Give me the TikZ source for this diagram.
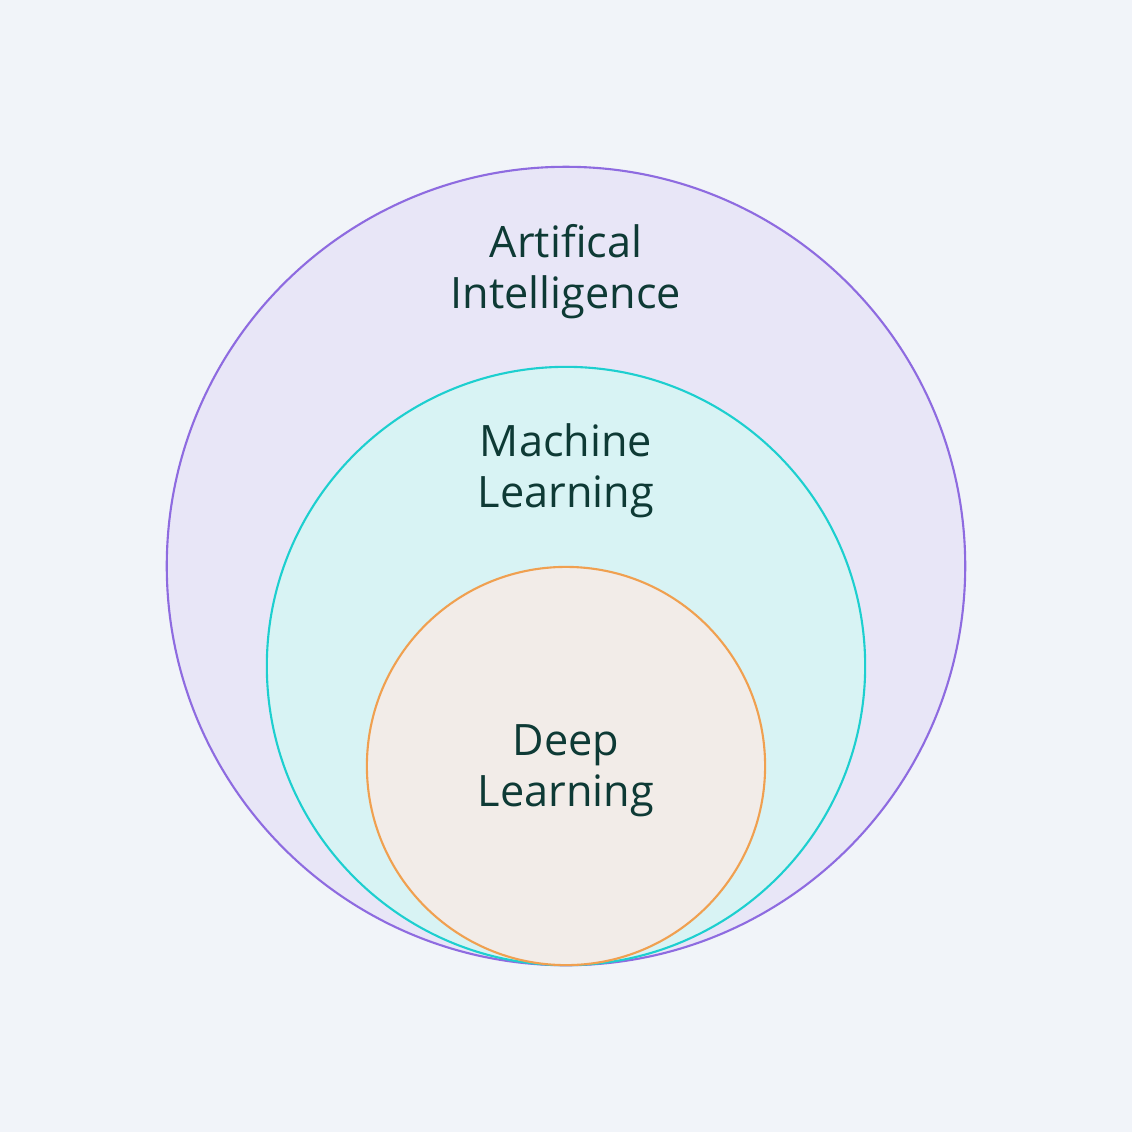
\documentclass[tikz,border=0pt]{standalone}
\usepackage{fontspec}
\setmainfont{Open Sans}
\definecolor{bgcol}{HTML}{F1F4F9}
\definecolor{aifill}{HTML}{E8E6F7}
\definecolor{aidraw}{HTML}{8E6BE0}
\definecolor{mlfill}{HTML}{D8F3F4}
\definecolor{mldraw}{HTML}{1DCFCF}
\definecolor{dlfill}{HTML}{F2ECE8}
\definecolor{dldraw}{HTML}{F0A050}
\definecolor{txtcol}{HTML}{0E3A35}

\begin{document}
\begin{tikzpicture}[x=0.01cm,y=-0.01cm,
    set/.style={circle,line width=0.6pt,inner sep=0pt},
    label text/.style={font=\fontsize{12.3}{14.5}\selectfont,text=txtcol,align=center}]
  \fill[bgcol] (0,0) rectangle (1132,1132);
  \useasboundingbox (0,0) rectangle (1132,1132);

  \node[set,draw=aidraw,fill=aifill,minimum size=7.98cm] (ai) at (566,566) {};
  \node[set,draw=mldraw,fill=mlfill,minimum size=5.98cm] (ml) at (566,666) {};
  \node[set,draw=dldraw,fill=dlfill,minimum size=3.98cm] (dl) at (566,766) {};

  \node[label text] (ailabel) at (566,272) {Artifical\\Intelligence};
  \node[label text] (mllabel) at (566,471) {Machine\\Learning};
  \node[label text] (dllabel) at (566,771) {Deep\\Learning};
\end{tikzpicture}
\end{document}
